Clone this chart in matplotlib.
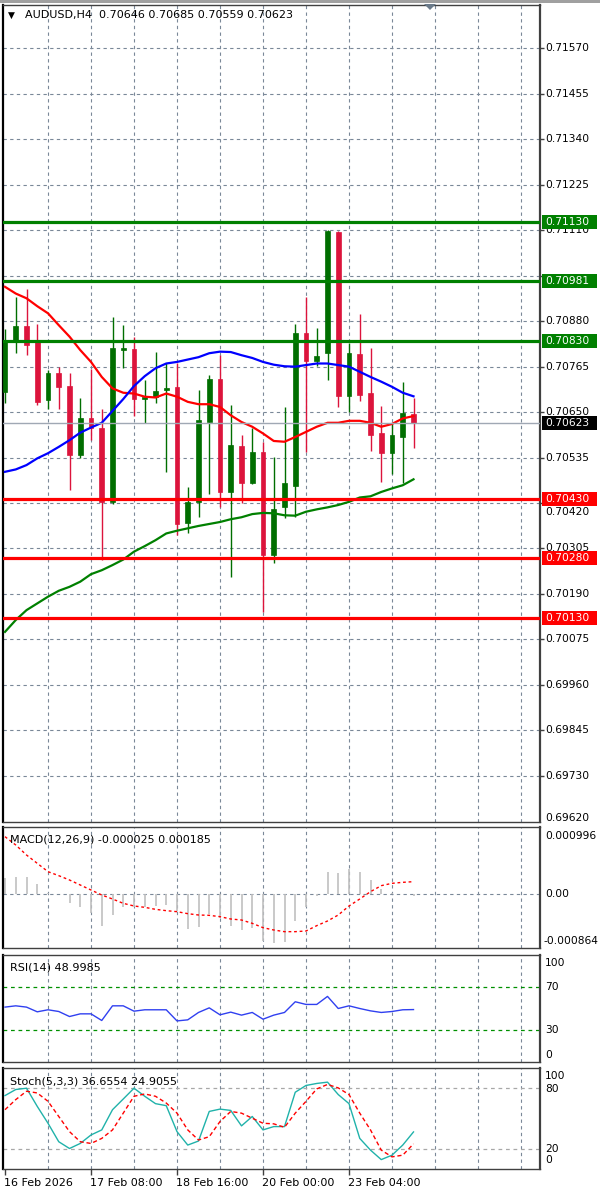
import matplotlib
matplotlib.use("Agg")
import matplotlib.pyplot as plt
import matplotlib.transforms as mtransforms
from matplotlib.patches import Rectangle, Polygon
import numpy as np

# ---- data (AUDUSD H4) ----
opens = [0.70701, 0.70832, 0.70868, 0.70828, 0.70680, 0.70748, 0.70717, 0.70541, 0.70634, 0.70611,
         0.70423, 0.70807, 0.70809, 0.70682, 0.70689, 0.70705, 0.70714, 0.70370, 0.70423, 0.70625,
         0.70733, 0.70448, 0.70564, 0.70470, 0.70550, 0.70288, 0.70409, 0.70463, 0.70849, 0.70780,
         0.70800, 0.71106, 0.70690, 0.70797, 0.70699, 0.70596, 0.70546, 0.70586, 0.70646]
highs = [0.70860, 0.70942, 0.70961, 0.70874, 0.70756, 0.70765, 0.70750, 0.70686, 0.70760, 0.70659,
         0.70891, 0.70870, 0.70839, 0.70731, 0.70803, 0.70773, 0.70773, 0.70461, 0.70707, 0.70744,
         0.70794, 0.70668, 0.70592, 0.70609, 0.70575, 0.70537, 0.70663, 0.70873, 0.70940, 0.70863,
         0.71112, 0.71109, 0.70824, 0.70898, 0.70813, 0.70665, 0.70621, 0.70727, 0.70685]
lows = [0.70674, 0.70800, 0.70794, 0.70668, 0.70659, 0.70659, 0.70453, 0.70534, 0.70579, 0.70275,
        0.70418, 0.70761, 0.70640, 0.70623, 0.70672, 0.70499, 0.70339, 0.70343, 0.70385, 0.70444,
        0.70410, 0.70232, 0.70419, 0.70468, 0.70145, 0.70269, 0.70381, 0.70384, 0.70550, 0.70766,
        0.70731, 0.70663, 0.70651, 0.70679, 0.70552, 0.70474, 0.70493, 0.70471, 0.70559]
closes = [0.70828, 0.70868, 0.70821, 0.70676, 0.70748, 0.70714, 0.70541, 0.70634, 0.70609, 0.70423,
          0.70813, 0.70813, 0.70682, 0.70689, 0.70703, 0.70710, 0.70368, 0.70423, 0.70630, 0.70733,
          0.70448, 0.70567, 0.70470, 0.70550, 0.70288, 0.70406, 0.70471, 0.70849, 0.70780, 0.70792,
          0.71109, 0.70690, 0.70799, 0.70693, 0.70592, 0.70546, 0.70592, 0.70648, 0.70623]

ma_red = [0.70967, 0.70950, 0.70938, 0.70918, 0.70900, 0.70870, 0.70841, 0.70807, 0.70777, 0.70739,
          0.70710, 0.70699, 0.70697, 0.70689, 0.70687, 0.70697, 0.70689, 0.70676, 0.70670, 0.70670,
          0.70663, 0.70642, 0.70625, 0.70613, 0.70596, 0.70577, 0.70575, 0.70587, 0.70600, 0.70613,
          0.70623, 0.70623, 0.70628, 0.70628, 0.70623, 0.70613, 0.70620, 0.70634, 0.70640]
ma_blue = [0.70499, 0.70505, 0.70516, 0.70533, 0.70546, 0.70562, 0.70579, 0.70598, 0.70611, 0.70623,
           0.70653, 0.70683, 0.70716, 0.70741, 0.70761, 0.70773, 0.70777, 0.70783, 0.70789, 0.70799,
           0.70803, 0.70802, 0.70794, 0.70787, 0.70777, 0.70770, 0.70766, 0.70765, 0.70769, 0.70773,
           0.70773, 0.70769, 0.70765, 0.70752, 0.70739, 0.70727, 0.70714, 0.70699, 0.70690]
ma_green = [0.70094, 0.70124, 0.70149, 0.70166, 0.70183, 0.70198, 0.70208, 0.70221, 0.70240, 0.70250,
            0.70263, 0.70277, 0.70297, 0.70311, 0.70326, 0.70343, 0.70350, 0.70356, 0.70362, 0.70367,
            0.70372, 0.70379, 0.70384, 0.70392, 0.70395, 0.70394, 0.70389, 0.70388, 0.70398, 0.70404,
            0.70409, 0.70415, 0.70423, 0.70434, 0.70437, 0.70448, 0.70457, 0.70465, 0.70480]

resistance = [0.71130, 0.70981, 0.70830]
support = [0.70430, 0.70280, 0.70130]
last_price = 0.70623

# grid levels; the 0.70995 and 0.70420 labels sit under level boxes in the original
price_ticks = [0.71570, 0.71455, 0.71340, 0.71225, 0.71110, 0.70995, 0.70880, 0.70765, 0.70650,
               0.70535, 0.70420, 0.70305, 0.70190, 0.70075, 0.69960, 0.69845, 0.69730]
price_tick_labels = ["0.71570", "0.71455", "0.71340", "0.71225", "0.71110", "", "0.70880",
                     "0.70765", "0.70650", "0.70535", "0.70420", "0.70305", "0.70190", "0.70075",
                     "0.69960", "0.69845", "0.69730"]

macd_hist = [245, 260, 260, 145, 10, 5, -130, -190, -290, -475, -315, -190, -190, -190, -175, -165,
             -255, -525, -490, -300, -365, -475, -540, -515, -705, -740, -715, -400, -190, -25,
             325, 310, 370, 335, 210, 75, 15, 5, -25]
macd_signal = [860, 735, 585, 460, 335, 275, 210, 135, 60, -15, -75, -140, -180, -200, -230, -250,
               -265, -295, -315, -320, -340, -375, -390, -440, -505, -540, -565, -565, -555, -475,
               -405, -315, -180, -75, 35, 125, 160, 175, 185]   # x 1e-6

rsi = [51.3, 52.5, 51.3, 46.9, 48.8, 47.2, 42.5, 45.0, 45.0, 38.8, 52.5, 52.5, 47.5, 48.8, 48.8,
       48.8, 38.4, 39.4, 46.3, 50.6, 44.1, 46.6, 43.8, 46.3, 40.0, 43.8, 46.3, 56.3, 53.8, 53.8,
       61.3, 50.0, 52.5, 50.0, 47.8, 46.3, 47.2, 48.8, 49.0]

stoch_main = [72.7, 78.7, 80.0, 62.0, 45.3, 27.0, 20.3, 25.3, 33.7, 38.7, 58.7, 69.3, 80.0, 72.0,
              64.7, 62.7, 37.0, 23.7, 27.7, 57.0, 59.3, 58.0, 42.7, 52.0, 38.7, 42.0, 42.0, 76.0,
              82.7, 84.7, 86.0, 73.7, 64.7, 30.3, 18.7, 9.3, 13.7, 23.7, 36.7]
stoch_signal = [58.7, 68.7, 77.0, 75.3, 67.0, 52.0, 37.0, 27.0, 25.3, 30.3, 38.7, 55.3, 72.0, 74.3,
                72.0, 65.3, 55.3, 38.7, 28.7, 32.0, 47.0, 57.0, 55.3, 50.3, 45.3, 44.7, 41.3, 55.3,
                67.0, 79.3, 83.7, 80.3, 73.7, 55.3, 38.7, 18.7, 12.0, 13.7, 24.9]

time_labels = ["16 Feb 2026", "17 Feb 08:00", "18 Feb 16:00", "20 Feb 00:00", "23 Feb 04:00"]
time_label_bars = [0, 8, 16, 24, 32]

# ---- layout helpers (pixel based) ----
W, H = 600, 1193
BULL = "#006e00"
BEAR = "#dc143c"
GRID = "#7a8898"
GRID_LS = (0, (3, 3))
plt.rcParams["font.family"] = ["DejaVu Sans"]

fig = plt.figure(figsize=(W / 100, H / 100), dpi=100)
fig.patch.set_facecolor("white")


def rect(l, t, r, b):
    return [l / W, 1 - b / H, (r - l) / W, (b - t) / H]


def fy(y):
    return 1 - y / H


xlim = ((3 - 5) / 10.75, (540 - 5) / 10.75)
x = np.arange(len(opens))


def setup(ax):
    ax.set_xlim(*xlim)
    ax.set_facecolor("white")
    for s in ax.spines.values():
        s.set_color("#404040")
        s.set_linewidth(1.0)
    ax.spines["left"].set_color("black")
    ax.spines["left"].set_linewidth(1.6)
    ax.spines["right"].set_linewidth(1.6)
    ax.set_xticks([])
    ax.set_yticks([])
    for v in range(4, 49, 4):
        ax.axvline(v, color=GRID, ls=GRID_LS, lw=0.8, zorder=0)


def axis_label(y_px, text, x_px=545, size=7.7):
    fig.text(x_px / W, fy(y_px), text, fontsize=size, color="black", va="center", ha="left")


# ---- main price window ----
ax = fig.add_axes(rect(3, 5, 540, 822))
setup(ax)
ax.set_ylim(0.69613, 0.71680)
for p in price_ticks:
    ax.axhline(p, color=GRID, ls=GRID_LS, lw=0.8, zorder=0)

o, h, l, c = map(np.array, (opens, highs, lows, closes))
col = np.where(c >= o, BULL, BEAR)
ax.vlines(x, l, h, colors=col, lw=1.0, zorder=2)
body_lo = np.minimum(o, c)
body_h = np.maximum(np.abs(c - o), 3e-5)
ax.bar(x, body_h, bottom=body_lo, width=0.45, color=col, edgecolor=col, lw=0.5, zorder=3)

ax.plot(x, ma_red, color="red", lw=1.6, zorder=4)
ax.plot(x, ma_blue, color="blue", lw=1.6, zorder=4)
ax.plot(x, ma_green, color="green", lw=1.6, zorder=4)

ax.axhline(last_price, color="#a0a8b4", lw=1.0, zorder=4)
for lv in resistance:
    ax.axhline(lv, color="#008000", lw=2.3, zorder=5)
for lv in support:
    ax.axhline(lv, color="#ff0000", lw=2.3, zorder=5)

tr = mtransforms.blended_transform_factory(fig.transFigure, ax.transData)
ax.yaxis.set_ticks_position("right")
ax.set_yticks(price_ticks)
ax.set_yticklabels([])
ax.tick_params(axis="y", length=3, width=1, color="#404040", direction="out")
px_price = 2.53e-5
for p, lab in zip(price_ticks, price_tick_labels):
    if not lab:
        continue
    yp = p
    if lab == "0.70420":   # peeks out just below the 0.70430 box
        yp = p - 8.5 * px_price
    ax.text(545 / W, yp, lab, transform=tr, fontsize=7.7, va="center", ha="left",
            clip_on=False, zorder=6)
fig.text(545 / W, fy(818), "0.69620", fontsize=7.7, va="center", ha="left")

hh = 7 * px_price


def price_box(lv, fc, text):
    ax.add_patch(Rectangle((542 / W, lv - hh), 55 / W, 2 * hh, transform=tr, facecolor=fc,
                           edgecolor="none", clip_on=False, zorder=7))
    ax.text(545 / W, lv, text, transform=tr, fontsize=7.7, color="white", va="center",
            ha="left", clip_on=False, zorder=8)


for lv in resistance:
    price_box(lv, "#008000", f"{lv:.5f}")
for lv in support:
    price_box(lv, "#ff0000", f"{lv:.5f}")
price_box(last_price, "black", f"{last_price:.5f}")

fig.text(8 / W, fy(15), "\u25BC", fontsize=6.5, va="center", ha="left", color="black")
fig.text(25 / W, fy(15), "AUDUSD,H4  0.70646 0.70685 0.70559 0.70623", fontsize=8,
         va="center", ha="left", color="black")

# top frame strip and shift marker
fig.add_artist(Rectangle((0, fy(3)), 1, 3 / H, transform=fig.transFigure,
                         facecolor="#a0a0a0", edgecolor="none"))
fig.add_artist(Polygon([[424 / W, fy(4)], [436 / W, fy(4)], [430 / W, fy(10)]],
                       closed=True, transform=fig.transFigure, facecolor="#6a7a8a",
                       edgecolor="none"))

# ---- MACD ----
axm = fig.add_axes(rect(3, 827, 540, 948))
setup(axm)
axm.set_ylim(-0.00081, 0.001005)
axm.axhline(0, color=GRID, ls=GRID_LS, lw=0.8, zorder=0)
axm.vlines(x, 0, np.array(macd_hist) * 1e-6, colors="#c0c0c0", lw=1.2, zorder=2)
axm.plot(x, np.array(macd_signal) * 1e-6, color="red", ls=(0, (2, 2)), lw=1.0, zorder=3)
fig.text(10 / W, fy(839), "MACD(12,26,9) -0.000025 0.000185", fontsize=8, va="center")
axis_label(836, "0.000996")
axis_label(894, "0.00")
axis_label(941, "-0.000864", x_px=543)

# ---- RSI ----
axr = fig.add_axes(rect(3, 955, 540, 1062))
setup(axr)
axr.set_ylim(0, 100)
axr.axhline(70, color="#009000", ls=GRID_LS, lw=0.9, zorder=1)
axr.axhline(30, color="#009000", ls=GRID_LS, lw=0.9, zorder=1)
axr.plot(x, rsi, color="#3040f0", lw=1.0, zorder=3)
fig.text(10 / W, fy(967), "RSI(14) 48.9985", fontsize=8, va="center")
axis_label(963, "100")
axis_label(987, "70")
axis_label(1030, "30")
axis_label(1055, "0")

# ---- Stochastic ----
axs = fig.add_axes(rect(3, 1068, 540, 1169))
setup(axs)
axs.set_ylim(0, 100)
axs.axhline(80, color="#a8a8a8", ls=GRID_LS, lw=0.9, zorder=1)
axs.axhline(20, color="#a8a8a8", ls=GRID_LS, lw=0.9, zorder=1)
axs.plot(x, stoch_main, color="#20b2aa", lw=1.0, zorder=3)
axs.plot(x, stoch_signal, color="red", ls=(0, (3, 2)), lw=1.0, zorder=3)
fig.text(10 / W, fy(1082), "Stoch(5,3,3) 36.6554 24.9055", fontsize=8, va="center")
axis_label(1076, "100")
axis_label(1089, "80")
axis_label(1149, "20")
axis_label(1160, "0")

axs.set_xticks(time_label_bars)
axs.set_xticklabels([])
axs.tick_params(axis="x", length=4, width=1, color="#404040", direction="out")
for b, lab in zip(time_label_bars, time_labels):
    fig.text((5 + 10.75 * b - 1) / W, fy(1183), lab, fontsize=8, va="center", ha="left")

fig.savefig("out.png", dpi=100)
